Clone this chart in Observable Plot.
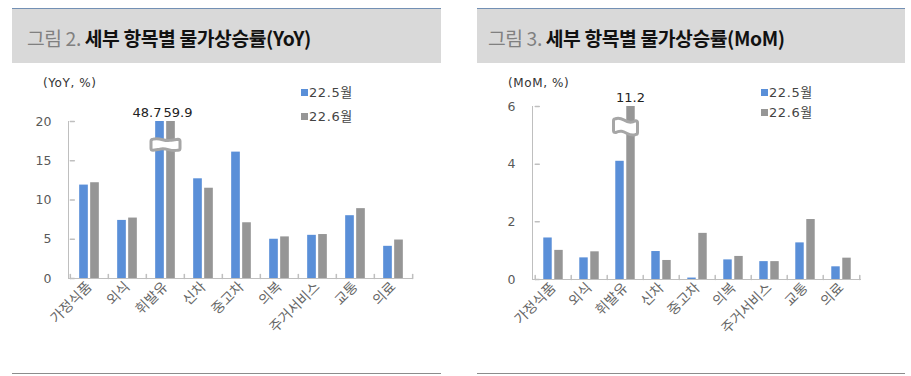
<!DOCTYPE html>
<html>
<head>
<meta charset="utf-8">
<script src="https://cdn.jsdelivr.net/npm/d3@7"></script>
<script src="https://cdn.jsdelivr.net/npm/@observablehq/plot@0.6"></script>
<style>
  html, body { margin: 0; padding: 0; background: #fff; }
  #root { position: relative; width: 911px; height: 376px; overflow: hidden; font-family: "Noto Sans CJK KR", "DejaVu Sans", sans-serif; }
  .topline { position: absolute; height: 0; border-top: 1.5px solid #7390B4; }
  .band { position: absolute; background: #D9D9D9; }
  .title { position: absolute; font-size: 19.3px; white-space: nowrap; letter-spacing: -0.4px; line-height: 22px; }
  .title .num { color: #808080; font-weight: 400; }
  .title .main { color: #111; font-weight: 700; }
  .botline { position: absolute; height: 0; border-top: 1.5px solid #8C8C8C; }
  .unit { position: absolute; font-family: "DejaVu Sans", "Noto Sans CJK KR", sans-serif; font-size: 12px; color: #333; letter-spacing: 0.6px; white-space: nowrap; }
  .leg { position: absolute; font-family: "DejaVu Sans", "Noto Sans CJK KR", sans-serif; font-size: 13px; color: #444; letter-spacing: 0.6px; white-space: nowrap; line-height: 14px; }
  .leg i { display: inline-block; width: 7px; height: 7px; margin-right: 1px; vertical-align: 1px; }
  .plot { position: absolute; }
</style>
</head>
<body>
<div id="root"></div>
<script>
// ---- data ----
const categories = ["가정식품", "외식", "휘발유", "신차", "중고차", "의복", "주거서비스", "교통", "의료"];
const seriesNames = ["22.5월", "22.6월"];
const yoyMay = [11.9, 7.4, 48.7, 12.7, 16.1, 5.0, 5.5, 8.0, 4.1];
const yoyJun = [12.2, 7.7, 59.9, 11.5, 7.1, 5.3, 5.6, 8.9, 4.9];
const momMay = [1.44, 0.75, 4.1, 0.97, 0.05, 0.68, 0.62, 1.27, 0.44];
const momJun = [1.01, 0.96, 11.2, 0.66, 1.6, 0.80, 0.62, 2.08, 0.74];
const yoyTicks = [0, 5, 10, 15, 20];
const momTicks = [0, 2, 4, 6];
const titles = [
  {num: "그림 2.", main: "세부 항목별 물가상승률(YoY)"},
  {num: "그림 3.", main: "세부 항목별 물가상승률(MoM)"}
];
const units = ["(YoY, %)", "(MoM, %)"];
const colors = ["#5A8FD8", "#969696"];

const root = document.getElementById("root");
function el(cls, style, html) {
  const d = document.createElement("div");
  d.className = cls;
  Object.assign(d.style, style);
  if (html != null) d.innerHTML = html;
  root.appendChild(d);
  return d;
}

// straight tick shape for vectors
const lineShape = {draw(ctx, l) { ctx.moveTo(0, 0); ctx.lineTo(0, -l); }};

// break symbols (glyph shapes, scaled by r)
const breakWide = {
  draw(ctx, size) {
    const r = Math.sqrt(size / Math.PI);
    const w = r * 1.0, h = r * 0.38;
    ctx.moveTo(-w + 2, -h);
    ctx.bezierCurveTo(-w * 0.3, -h - 2, -w * 0.1, -h + 3, w * 0.4, -h + 1);
    ctx.lineTo(w - 2, -h);
    ctx.quadraticCurveTo(w, -h, w, -h + 2);
    ctx.lineTo(w, h - 2);
    ctx.quadraticCurveTo(w, h, w - 2, h);
    ctx.bezierCurveTo(w * 0.3, h + 2, w * 0.1, h - 3, -w * 0.4, h - 1);
    ctx.lineTo(-w + 2, h);
    ctx.quadraticCurveTo(-w, h, -w, h - 2);
    ctx.lineTo(-w, -h + 2);
    ctx.quadraticCurveTo(-w, -h, -w + 2, -h);
    ctx.closePath();
  }
};
const breakTall = {
  draw(ctx, size) {
    const r = Math.sqrt(size / Math.PI);
    const w = r * 1.0, h = r * 0.66;
    ctx.moveTo(-w + 2, -h);
    ctx.bezierCurveTo(-w * 0.2, -h - 3, w * 0.1, -h + 7, w - 2, -h + 2);
    ctx.quadraticCurveTo(w, -h + 2, w, -h + 4);
    ctx.lineTo(w, h - 2);
    ctx.quadraticCurveTo(w, h, w - 2, h);
    ctx.bezierCurveTo(w * 0.2, h + 3, -w * 0.1, h - 7, -w + 2, h - 2);
    ctx.quadraticCurveTo(-w, h - 2, -w, h - 4);
    ctx.lineTo(-w, -h + 2);
    ctx.quadraticCurveTo(-w, -h, -w + 2, -h);
    ctx.closePath();
  }
};

const panels = [
  {left: 12, right: 441, titleX: 27, plotLeft: 0, width: 455, may: yoyMay, jun: yoyJun, ticks: yoyTicks,
   ml: 68, mr: 42, mt: 51, mb: 72, unitX: 43, legX: 301, legY: [86, 110], breakY: 17.05, breakR: 14.5, breakSym: breakWide,
   labelDx: [-4, -2], labelAnchor: ["end", "start"]},
  {left: 477, right: 905, titleX: 488, plotLeft: 455, width: 456, may: momMay, jun: momJun, ticks: momTicks,
   ml: 77, mr: 50, mt: 36, mb: 71, unitX: 508, legX: 761, legY: [86, 106], breakY: 5.3, breakR: 12, breakSym: breakTall,
   labelDx: [-5, 5], labelAnchor: ["middle", "middle"]}
];

panels.forEach((p, i) => {
  el("topline", {left: p.left + "px", top: "8px", width: (p.right - p.left) + "px"});
  el("band", {left: p.left + "px", top: "9px", width: (p.right - p.left) + "px", height: "54px"});
  el("title", {left: p.titleX + "px", top: "27px"},
     `<span class="num">${titles[i].num}</span> <span class="main">${titles[i].main}</span>`);
  el("botline", {left: p.left + "px", top: "373px", width: (p.right - p.left) + "px"});
  el("unit", {left: p.unitX + "px", top: "76px"}, units[i]);
  seriesNames.forEach((s, k) => {
    el("leg", {left: p.legX + "px", top: p.legY[k] + "px"}, `<i style="background:${colors[k]}"></i>${s}`);
  });

  const height = 280;
  const max = p.ticks[p.ticks.length - 1];
  const step = (p.width - p.ml - p.mr) / categories.length;
  const rows = categories.map((c, j) => ({cat: c, may: p.may[j], jun: p.jun[j]}));
  const brk = rows.filter(r => r.may > max || r.jun > max);
  const keys = ["may", "jun"];
  const labelMarks = keys.map((key, k) =>
    Plot.text(rows.filter(r => r[key] > max), {
      x: "cat", y: () => max, text: r => r[key].toFixed(1),
      dy: -9, dx: p.labelDx[k], textAnchor: p.labelAnchor[k],
      fontSize: 13, fill: "#222"
    })
  );

  const chart = Plot.plot({
    width: p.width,
    height,
    marginLeft: p.ml, marginRight: p.mr, marginTop: p.mt, marginBottom: p.mb,
    style: {fontFamily: "'DejaVu Sans', 'Noto Sans CJK KR', sans-serif", background: "transparent", overflow: "visible"},
    x: {domain: categories, padding: 0, label: null},
    y: {domain: [0, max], label: null},
    marks: [
      Plot.barY(rows, {x: "cat", y: "may", fill: colors[0], insetLeft: step / 2 - 10, insetRight: step / 2 + 1, clip: true}),
      Plot.barY(rows, {x: "cat", y: "jun", fill: colors[1], insetLeft: step / 2 + 1, insetRight: step / 2 - 10, clip: true}),
      Plot.dot(brk, {x: "cat", y: () => p.breakY, r: p.breakR, symbol: p.breakSym, fill: "white", stroke: "#A6A6A6", strokeWidth: 3}),
      Plot.ruleY([0], {stroke: "#BFBFBF"}),
      Plot.frame({anchor: "left", stroke: "#BFBFBF"}),
      Plot.vector(categories, {x: d => d, y: () => 0, length: 4, rotate: 0, anchor: "start", shape: lineShape, dx: -step / 2, stroke: "#BFBFBF"}),
      Plot.vector(categories.slice(-1), {x: d => d, y: () => 0, length: 4, rotate: 0, anchor: "start", shape: lineShape, dx: step / 2, stroke: "#BFBFBF"}),
      Plot.vector(p.ticks, {x: () => categories[0], y: d => d, length: 4, rotate: 90, anchor: "start", shape: lineShape, dx: -step / 2, stroke: "#BFBFBF"}),
      Plot.axisY({ticks: p.ticks, tickFormat: d => String(d), tickSize: 0, tickPadding: 17, fontSize: 12.5, fill: "#595959", label: null}),
      Plot.axisX({tickSize: 0, tickPadding: 6, tickRotate: -45, fontSize: 14, fill: "#666", label: null,
                  fontFamily: "'Noto Sans CJK KR', sans-serif"}),
      ...labelMarks
    ]
  });
  chart.classList.add("plot");
  chart.style.left = p.plotLeft + "px";
  chart.style.top = "70px";
  root.appendChild(chart);
});
</script>
</body>
</html>
